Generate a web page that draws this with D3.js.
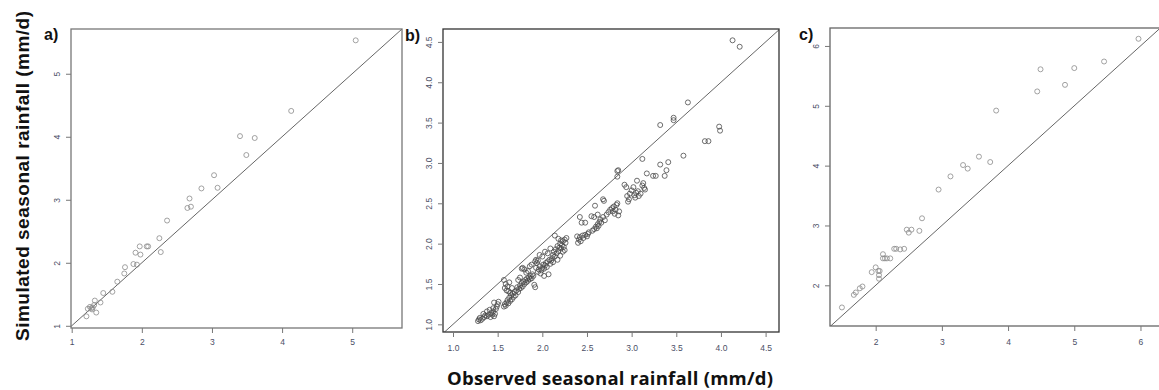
<!DOCTYPE html>
<html>
<head>
<meta charset="utf-8">
<script src="https://cdn.jsdelivr.net/npm/d3@7"></script>
<style>
  body { margin: 0; background: #fff; }
  svg { display: block; }
</style>
</head>
<body>
<div id="chart"></div>
<script>
// panel a) observed vs simulated (mm/d)
const obsA = [5.05, 4.13, 3.40, 3.61, 3.49, 3.03, 3.08, 2.85, 2.68, 2.70, 2.65, 2.36, 2.25, 2.27,
  1.97, 2.07, 2.09, 1.91, 1.98, 1.88, 1.93, 1.76, 1.75, 1.65, 1.58, 1.45, 1.41, 1.33, 1.35,
  1.23, 1.26, 1.29, 1.30, 1.21, 1.32, 1.28];
const simA = [5.53, 4.41, 4.01, 3.98, 3.71, 3.39, 3.19, 3.18, 3.02, 2.89, 2.87, 2.67, 2.39, 2.17,
  2.26, 2.26, 2.26, 2.16, 2.13, 1.98, 1.97, 1.93, 1.83, 1.70, 1.54, 1.52, 1.37, 1.40, 1.21,
  1.27, 1.30, 1.26, 1.29, 1.15, 1.33, 1.28];

// panel b)
const obsB = [1.28, 1.29, 1.30, 1.31, 1.33, 1.35, 1.36, 1.38, 1.40, 1.41, 1.42, 1.43, 1.44, 1.45, 1.46, 1.47, 1.48, 1.38, 1.34, 1.50, 1.49, 1.51, 1.46, 1.45,
  1.57, 1.58, 1.59, 1.60, 1.61, 1.62, 1.63, 1.64, 1.65, 1.66, 1.67, 1.68, 1.69, 1.70, 1.58, 1.59, 1.61, 1.63, 1.57, 1.60, 1.64, 1.66, 1.62,
  1.71, 1.72, 1.73, 1.74, 1.75, 1.76, 1.77, 1.78, 1.79, 1.80, 1.81, 1.82, 1.83, 1.84, 1.85, 1.86, 1.87, 1.88, 1.89, 1.90, 1.91, 1.92, 1.77, 1.78, 1.80, 1.82, 1.84, 1.86, 1.88, 1.75, 1.73,
  1.92, 1.93, 1.94, 1.95, 1.93, 1.95, 1.96, 1.97, 1.98, 1.99, 2.00, 2.01, 2.02, 2.03, 2.04, 2.05, 2.06, 2.07, 2.08, 2.09, 2.10, 2.11, 2.12, 1.97, 2.00, 2.03, 2.06, 2.09, 2.02,
  2.12, 2.13, 2.14, 2.15, 2.16, 2.17, 2.18, 2.19, 2.20, 2.21, 2.22, 2.23, 2.24, 2.25, 2.26, 2.27, 2.14, 2.18, 2.21, 2.23, 2.17, 2.20, 2.25,
  2.40, 2.41, 2.42, 2.43, 2.45, 2.46, 2.48, 2.50, 2.52, 2.44, 2.48, 2.42, 2.51, 2.39,
  2.56, 2.58, 2.60, 2.61, 2.62, 2.63, 2.64, 2.65, 2.66, 2.68, 2.70, 2.72, 2.74, 2.76, 2.78, 2.79, 2.80, 2.81, 2.82, 2.83, 2.84, 2.85, 2.86, 2.58, 2.59, 2.68, 2.69, 2.55, 2.62,
  2.92, 2.94, 2.95, 2.96, 2.97, 2.98, 3.00, 3.02, 3.03, 3.04, 3.05, 3.06, 3.07, 3.08, 3.10, 3.12, 3.13, 3.14, 3.15,
  2.84, 2.84, 2.85, 3.12, 3.17, 3.24, 3.27, 3.32, 3.41, 3.39, 3.37, 3.58, 3.82, 3.86, 3.98, 3.99, 3.32, 3.47, 3.47, 3.63, 4.13, 4.21];
const simB = [1.04, 1.06, 1.08, 1.05, 1.07, 1.09, 1.11, 1.10, 1.12, 1.18, 1.09, 1.14, 1.12, 1.16, 1.10, 1.13, 1.19, 1.16, 1.13, 1.25, 1.22, 1.28, 1.27, 1.20,
  1.22, 1.25, 1.23, 1.27, 1.30, 1.26, 1.33, 1.29, 1.36, 1.31, 1.38, 1.34, 1.40, 1.36, 1.45, 1.50, 1.47, 1.52, 1.55, 1.42, 1.39, 1.45, 1.41,
  1.42, 1.46, 1.40, 1.44, 1.48, 1.45, 1.51, 1.47, 1.53, 1.50, 1.55, 1.52, 1.57, 1.54, 1.58, 1.56, 1.60, 1.57, 1.62, 1.60, 1.49, 1.46, 1.69, 1.70, 1.68, 1.64, 1.66, 1.72, 1.74, 1.58, 1.55,
  1.78, 1.80, 1.76, 1.79, 1.70, 1.65, 1.68, 1.72, 1.63, 1.67, 1.70, 1.74, 1.69, 1.73, 1.76, 1.71, 1.78, 1.62, 1.80, 1.75, 1.79, 1.82, 1.77, 1.86, 1.84, 1.90, 1.88, 1.94, 1.60,
  1.86, 1.90, 1.84, 1.93, 1.88, 1.97, 1.91, 1.95, 2.00, 1.94, 1.98, 2.03, 1.96, 2.05, 2.01, 2.07, 2.10, 2.06, 2.04, 1.90, 1.80, 1.85, 1.92,
  2.01, 2.05, 2.08, 2.03, 2.10, 2.07, 2.11, 2.09, 2.14, 2.26, 2.26, 2.33, 2.12, 2.09,
  2.16, 2.18, 2.21, 2.19, 2.24, 2.22, 2.27, 2.30, 2.26, 2.33, 2.29, 2.36, 2.39, 2.42, 2.44, 2.40, 2.46, 2.37, 2.42, 2.48, 2.50, 2.35, 2.40, 2.33, 2.47, 2.55, 2.53, 2.34, 2.36,
  2.73, 2.70, 2.59, 2.52, 2.55, 2.62, 2.66, 2.70, 2.60, 2.57, 2.63, 2.78, 2.65, 2.59, 2.62, 2.72, 2.75, 2.69, 2.67,
  2.83, 2.90, 2.91, 3.05, 2.87, 2.84, 2.84, 2.98, 3.01, 2.91, 2.84, 3.09, 3.27, 3.27, 3.45, 3.40, 3.47, 3.56, 3.53, 3.75, 4.52, 4.44];

// panel c)
const obsC = [5.97, 5.45, 5.00, 4.49, 4.86, 4.44, 3.82, 3.56, 3.73, 3.32, 3.39, 3.13, 2.95, 2.70,
  2.47, 2.54, 2.50, 2.66, 2.28, 2.31, 2.37, 2.43, 2.11, 2.11, 2.14, 2.17, 2.22, 2.00, 1.94,
  2.04, 2.06, 2.05, 2.05, 1.80, 1.76, 1.70, 1.67, 1.49];
const simC = [6.12, 5.74, 5.63, 5.61, 5.35, 5.24, 4.92, 4.15, 4.06, 4.01, 3.95, 3.82, 3.60, 3.12,
  2.93, 2.93, 2.88, 2.91, 2.61, 2.61, 2.60, 2.61, 2.52, 2.45, 2.45, 2.45, 2.45, 2.30, 2.22,
  2.24, 2.24, 2.17, 2.11, 1.98, 1.95, 1.88, 1.84, 1.63];

const ticksA = [1, 2, 3, 4, 5];
const ticksB = [1.0, 1.5, 2.0, 2.5, 3.0, 3.5, 4.0, 4.5];
const ticksC = [2, 3, 4, 5, 6];

const width = 1159, height = 390;

const svg = d3.select("#chart").append("svg")
  .attr("width", width)
  .attr("height", height);

const panels = [
  { id: "a", label: "a)", obs: obsA, sim: simA, ticks: ticksA, fmt: d3.format("d"),
    box: [71, 402, 29, 328], xdom: [0.99, 5.71], ydom: [0.965, 5.71],
    pt: "#8a8a8a", frame: "#777", pad: 6, lab: [44, 40] },
  { id: "b", label: "b)", obs: obsB, sim: simB, ticks: ticksB, fmt: d3.format(".1f"),
    box: [443, 779, 29, 332], xdom: [0.888, 4.65], ydom: [0.905, 4.66],
    pt: "#4a4a4a", frame: "#333", pad: 8, lab: [405, 41] },
  { id: "c", label: "c)", obs: obsC, sim: simC, ticks: ticksC, fmt: d3.format("d"),
    box: [830, 1161, 28, 326], xdom: [1.31, 6.31], ydom: [1.32, 6.30],
    pt: "#8a8a8a", frame: "#666", pad: 8, lab: [799, 40] }
];

panels.forEach(p => {
  const [x0, x1, y0, y1] = p.box;
  const x = d3.scaleLinear().domain(p.xdom).range([x0, x1]);
  const y = d3.scaleLinear().domain(p.ydom).range([y1, y0]);

  svg.append("defs").append("clipPath").attr("id", "clip-" + p.id)
    .append("rect").attr("x", x0).attr("y", y0).attr("width", x1 - x0).attr("height", y1 - y0);

  // 1:1 line
  const lo = Math.min(p.xdom[0], p.ydom[0]) - 1, hi = Math.max(p.xdom[1], p.ydom[1]) + 1;
  svg.append("line")
    .attr("clip-path", "url(#clip-" + p.id + ")")
    .attr("x1", x(lo)).attr("y1", y(lo))
    .attr("x2", x(hi)).attr("y2", y(hi))
    .attr("stroke", "#666").attr("stroke-width", 1);

  // points
  svg.append("g")
    .selectAll("circle")
    .data(p.obs.map((d, i) => [d, p.sim[i]]))
    .join("circle")
      .attr("cx", d => x(d[0]))
      .attr("cy", d => y(d[1]))
      .attr("r", 2.5)
      .attr("fill", "none")
      .attr("stroke", p.pt)
      .attr("stroke-width", 0.8);

  // box
  svg.append("rect")
    .attr("x", x0).attr("y", y0)
    .attr("width", x1 - x0).attr("height", y1 - y0)
    .attr("fill", "none")
    .attr("stroke", p.frame)
    .attr("stroke-width", 1.3);

  // axes
  const gx = svg.append("g")
    .attr("transform", "translate(0," + y1 + ")")
    .call(d3.axisBottom(x).tickValues(p.ticks).tickFormat(p.fmt).tickSize(5).tickPadding(p.pad));
  const gy = svg.append("g")
    .attr("transform", "translate(" + x0 + ",0)")
    .call(d3.axisLeft(y).tickValues(p.ticks).tickFormat(p.fmt).tickSize(5));

  [gx, gy].forEach(g => {
    g.select(".domain").remove();
    g.selectAll(".tick line").attr("stroke", "#777");
    g.selectAll(".tick text")
      .attr("fill", "#4b4f66")
      .style("font-family", "'Liberation Sans', Arial, sans-serif")
      .style("font-size", "8.5px");
  });

  gy.selectAll(".tick text")
    .attr("transform", "rotate(-90)")
    .attr("x", 0)
    .attr("y", -11)
    .attr("dy", 0)
    .style("text-anchor", "middle");

  svg.append("text")
    .attr("x", p.lab[0]).attr("y", p.lab[1])
    .style("font-family", "'Liberation Sans', Arial, sans-serif")
    .style("font-weight", "bold")
    .style("font-size", "16px")
    .attr("fill", "#111")
    .text(p.label);
});

// axis titles
svg.append("text")
  .attr("transform", "translate(29,176) rotate(-90)")
  .style("text-anchor", "middle")
  .style("font-family", "'Liberation Sans', Arial, sans-serif")
  .style("font-weight", "bold")
  .style("font-size", "19px")
  .attr("textLength", 330)
  .attr("lengthAdjust", "spacing")
  .attr("fill", "#111")
  .text("Simulated seasonal rainfall (mm/d)");

svg.append("text")
  .attr("x", 610).attr("y", 385)
  .style("text-anchor", "middle")
  .style("font-family", "'Open Sans', sans-serif")
  .style("font-weight", "bold")
  .style("font-size", "18.5px")
  .attr("textLength", 326)
  .attr("lengthAdjust", "spacing")
  .attr("fill", "#111")
  .text("Observed seasonal rainfall (mm/d)");
</script>
</body>
</html>
